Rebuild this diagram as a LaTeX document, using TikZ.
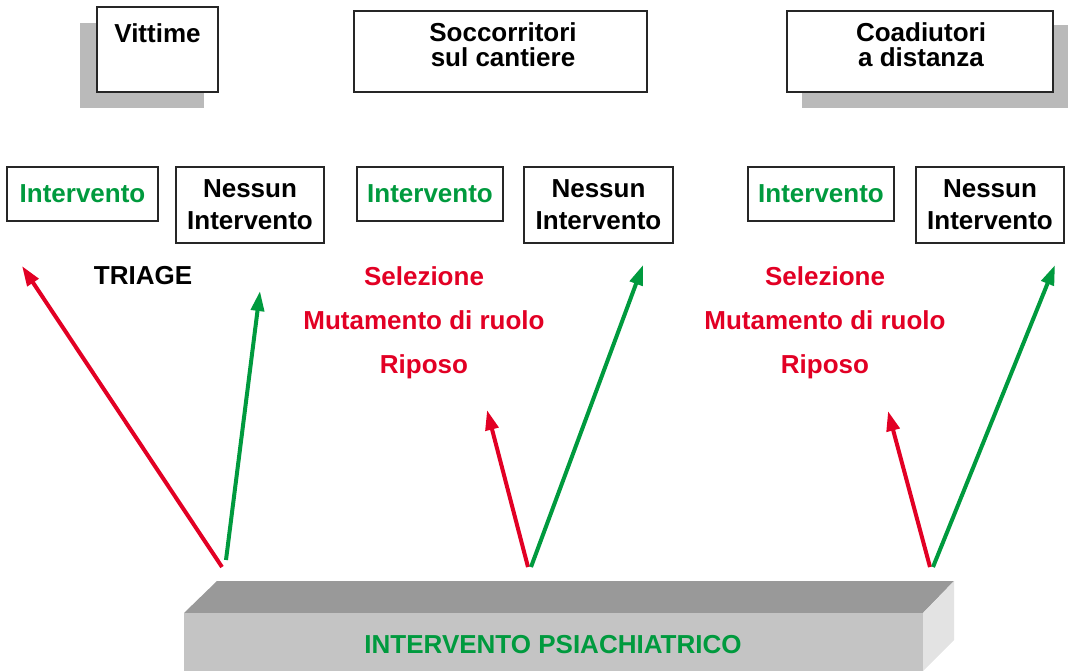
\documentclass[tikz,border=0pt]{standalone}
\usepackage{fontspec}
\setmainfont{Liberation Sans}
\usepackage{tikz}
\usetikzlibrary{arrows.meta,calc}
\definecolor{psgreen}{RGB}{0,154,62}
\definecolor{psred}{RGB}{226,0,36}

\begin{document}
\begin{tikzpicture}[x=1pt,y=-1pt,
  box/.style={draw=black!85,line width=1.5pt,fill=white,inner sep=0pt},
  shadowbox/.style={fill=black!27,draw=none},
  txt/.style={font=\bfseries\fontsize{26}{32}\selectfont,align=center,inner sep=0pt},
  toptxt/.style={txt,font=\bfseries\fontsize{26}{25}\selectfont,anchor=north},
  redtxt/.style={txt,text=psred,font=\bfseries\fontsize{26}{44}\selectfont,anchor=north},
  redarrow/.style={psred,line width=4pt,-{Triangle[length=20pt,width=13pt]}},
  greenarrow/.style={psgreen,line width=4pt,-{Triangle[length=20pt,width=13pt]}}]
\useasboundingbox (0,0) rectangle (1068,671);

% riquadri in alto
\fill[shadowbox] (80,23) rectangle (204,108);
\fill[shadowbox] (802,25) rectangle (1068,108);
\node[box,minimum width=121pt,minimum height=85pt] (v) at (157.5,49.5) {};
\node[box,minimum width=293pt,minimum height=81pt] (s) at (500.5,51.5) {};
\node[box,minimum width=266pt,minimum height=81pt] (c) at (920,51.5) {};
\node[toptxt] (vt) at (157.5,23) {Vittime};
\node[toptxt] (st) at (503,22) {Soccorritori\\sul cantiere};
\node[toptxt] (ct) at (921,22) {Coadiutori\\a distanza};

% interventi
\node[box,txt,text=psgreen,minimum width=151pt,minimum height=54pt] (1) at (82.5,194) {Intervento};
\node[box,txt,minimum width=148pt,minimum height=76pt] (2) at (250,205) {Nessun\\Intervento};
\node[box,txt,text=psgreen,minimum width=146pt,minimum height=54pt] (3) at (430,194) {Intervento};
\node[box,txt,minimum width=149pt,minimum height=76pt] (4) at (598.5,205) {Nessun\\Intervento};
\node[box,txt,text=psgreen,minimum width=146pt,minimum height=54pt] (5) at (821,194) {Intervento};
\node[box,txt,minimum width=148pt,minimum height=76pt] (6) at (990,205) {Nessun\\Intervento};

\node[txt,anchor=north] (tr) at (143,266) {TRIAGE};
\node[redtxt] (r1) at (424,266) {Selezione\\Mutamento di ruolo\\Riposo};
\node[redtxt] (r2) at (825,266) {Selezione\\Mutamento di ruolo\\Riposo};

% blocco in basso
\fill[black!40] (184,613) -- (217,581) -- (954,581) -- (923,613) -- cycle;
\fill[black!23] (184,613) rectangle (923,671);
\fill[black!11] (923,613) -- (954,581) -- (954,640) -- (923,671) -- cycle;
\node[txt,text=psgreen,anchor=base] (ip) at (553,653) {INTERVENTO PSIACHIATRICO};

% frecce
\coordinate (a1) at (222,567);
\coordinate (a2) at (226,560);
\coordinate (a3) at (528,567);
\coordinate (a4) at (531,567);
\coordinate (a5) at (930,567);
\coordinate (a6) at (933,567);
\coordinate (e1) at (22,266);
\coordinate (e2) at (260,291);
\coordinate (e3) at (487,410);
\coordinate (e4) at (643,265);
\coordinate (e5) at (888,411);
\coordinate (e6) at (1055,265);
\draw[redarrow] (a1) -- (e1);
\draw[greenarrow] (a2) -- (e2);
\draw[redarrow] (a3) -- (e3);
\draw[greenarrow] (a4) -- (e4);
\draw[redarrow] (a5) -- (e5);
\draw[greenarrow] (a6) -- (e6);
\end{tikzpicture}
\end{document}
